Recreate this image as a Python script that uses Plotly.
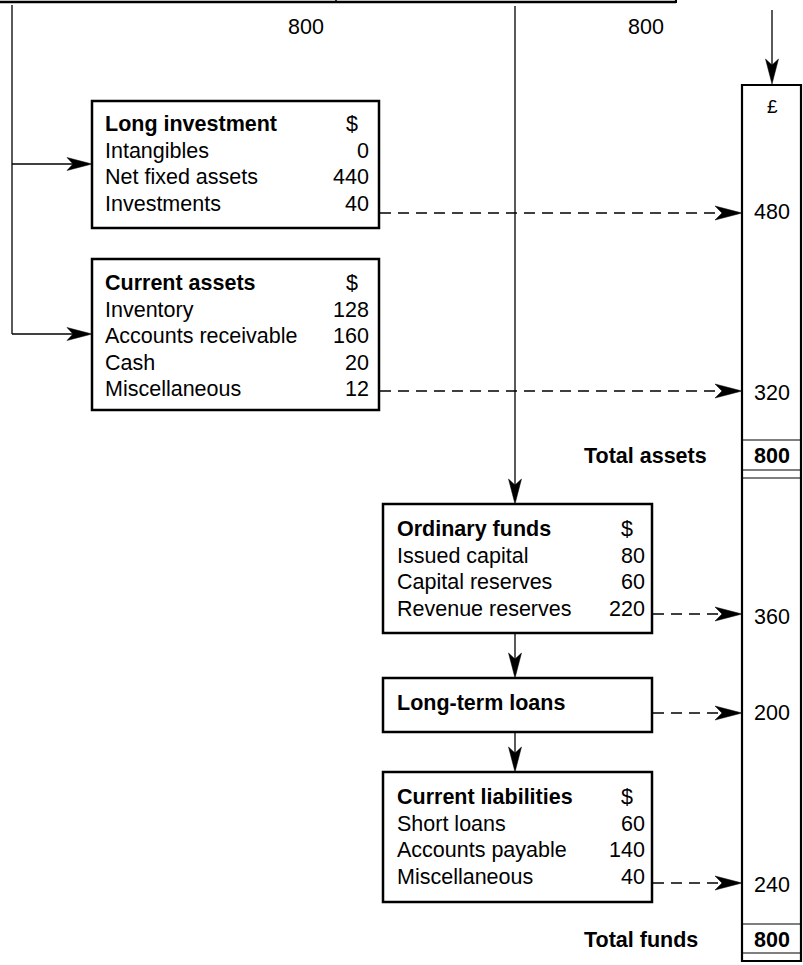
import plotly.graph_objects as go

# ---------------- data ----------------
top_totals = [800, 800]

long_title = "Long investment"
long_items = ["Intangibles", "Net fixed assets", "Investments"]
long_values = [0, 440, 40]

ca_title = "Current assets"
ca_items = ["Inventory", "Accounts receivable", "Cash", "Miscellaneous"]
ca_values = [128, 160, 20, 12]

of_title = "Ordinary funds"
of_items = ["Issued capital", "Capital reserves", "Revenue reserves"]
of_values = [80, 60, 220]

ltl_title = "Long-term loans"

cl_title = "Current liabilities"
cl_items = ["Short loans", "Accounts payable", "Miscellaneous"]
cl_values = [60, 140, 40]

currency_header = "$"
column_currency = "£"
asset_column_values = [480, 320]
total_assets_label = "Total assets"
total_assets = 800
fund_column_values = [360, 200, 240]
total_funds_label = "Total funds"
total_funds = 800

# ---------------- layout (pixel geometry) ----------------
W, H = 803, 965
FONT = "Liberation Sans, Arial, Helvetica, sans-serif"
FS = 21.5
PITCH = 26.5
BLACK = "#000000"

left_box = dict(x0=92, x1=379, tx=104, dx=352, vx=370)
right_box = dict(x0=383, x1=652, tx=396, dx=627, vx=646)

boxes = [
    dict(geo=left_box, y0=101, y1=228, hy=124, title=long_title, items=long_items, values=long_values, dash_y=213),
    dict(geo=left_box, y0=259, y1=410, hy=283, title=ca_title, items=ca_items, values=ca_values, dash_y=391),
    dict(geo=right_box, y0=504, y1=633, hy=529, title=of_title, items=of_items, values=of_values, dash_y=614),
    dict(geo=right_box, y0=678, y1=732, hy=703, title=ltl_title, items=[], values=[], dash_y=713),
    dict(geo=right_box, y0=772, y1=902, hy=797, title=cl_title, items=cl_items, values=cl_values, dash_y=883),
]

col = dict(x0=742, x1=801, y0=85, y1=961, cx=772)
col_value_y = [212, 393, 617, 713, 885]
col_lines = [440, 470, 478, 924, 953]

shapes = []
annotations = []


def line(x0, y0, x1, y1, width=1.3, dash="solid"):
    shapes.append(dict(type="line", xref="x", yref="y", x0=x0, y0=y0, x1=x1, y1=y1,
                       line=dict(color=BLACK, width=width, dash=dash)))


def head(tx, ty, direction, L=25, Wd=6.5, N=19):
    if direction == "right":
        pts = [(tx, ty), (tx - L, ty - Wd), (tx - N, ty), (tx - L, ty + Wd)]
    else:  # down
        pts = [(tx, ty), (tx - Wd, ty - L), (tx, ty - N), (tx + Wd, ty - L)]
    path = "M" + " L".join(f"{x},{y}" for x, y in pts) + " Z"
    shapes.append(dict(type="path", xref="x", yref="y", path=path,
                       fillcolor=BLACK, line=dict(color=BLACK, width=0.5)))


def text(x, y, s, anchor="left", bold=False, size=FS):
    annotations.append(dict(x=x, y=y, xref="x", yref="y", text=f"<b>{s}</b>" if bold else str(s),
                            showarrow=False, xanchor=anchor, yanchor="middle",
                            font=dict(family=FONT, size=size, color=BLACK), borderpad=0))


# top band
line(0, 2, 676, 2, width=2.4)
line(336, 0, 336, 3, width=1.5)
line(676, 0, 676, 3, width=2)
text(306, 27, top_totals[0], anchor="center")
text(646, 27, top_totals[1], anchor="center")

# left feeder
line(12, 5, 12, 334)
for b, ay in zip(boxes[:2], [164, 334]):
    line(12, ay, b["geo"]["x0"] - 10, ay)
    head(b["geo"]["x0"], ay, "right")

# central feeder into funds
line(515, 6, 515, 495)
head(515, 504, "down")
# chain between fund boxes
for upper, lower in zip(boxes[2:-1], boxes[3:]):
    line(515, upper["y1"], 515, lower["y0"] - 10)
    head(515, lower["y0"], "down")

# right feeder into column
line(772, 10, 772, 75)
head(772, 84, "down")

# boxes
for b in boxes:
    g = b["geo"]
    shapes.append(dict(type="rect", xref="x", yref="y", x0=g["x0"], x1=g["x1"], y0=b["y0"], y1=b["y1"],
                       line=dict(color=BLACK, width=2.5), fillcolor="rgba(0,0,0,0)"))
    text(g["tx"], b["hy"], b["title"], bold=True)
    if b["items"]:
        text(g["dx"], b["hy"], currency_header, anchor="center")
    for i, (it, v) in enumerate(zip(b["items"], b["values"])):
        yy = b["hy"] + PITCH * (i + 1)
        text(g["tx"], yy, it)
        text(g["vx"], yy, v, anchor="right")
    # dashed connector to column
    line(g["x1"] + 1, b["dash_y"], col["x0"] - 12, b["dash_y"], width=1.3, dash="11px,7px")
    head(col["x0"], b["dash_y"], "right", L=27, Wd=7, N=20)

# column
shapes.append(dict(type="rect", xref="x", yref="y", x0=col["x0"], x1=col["x1"], y0=col["y0"], y1=col["y1"],
                   line=dict(color=BLACK, width=2.2), fillcolor="rgba(0,0,0,0)"))
for yl in col_lines:
    line(col["x0"], yl, col["x1"], yl, width=1.2)
text(col["cx"], 106, column_currency, anchor="center", size=19)
for v, yy in zip(asset_column_values + fund_column_values, col_value_y):
    text(col["cx"], yy, v, anchor="center")
text(583, 456, total_assets_label, bold=True)
text(col["cx"], 456, total_assets, anchor="center", bold=True)
text(583, 940, total_funds_label, bold=True)
text(col["cx"], 940, total_funds, anchor="center", bold=True)

fig = go.Figure()
fig.update_layout(
    width=W, height=H,
    margin=dict(l=0, r=0, t=0, b=0),
    paper_bgcolor="white", plot_bgcolor="white",
    xaxis=dict(range=[0, W], visible=False, fixedrange=True),
    yaxis=dict(range=[H, 0], visible=False, fixedrange=True),
    shapes=shapes, annotations=annotations, showlegend=False,
)
fig.write_html(
    "out.html",
    config=dict(displayModeBar=False),
    post_script="document.body.style.margin='0';document.body.style.padding='0';"
                "document.body.style.overflow='hidden';",
)
